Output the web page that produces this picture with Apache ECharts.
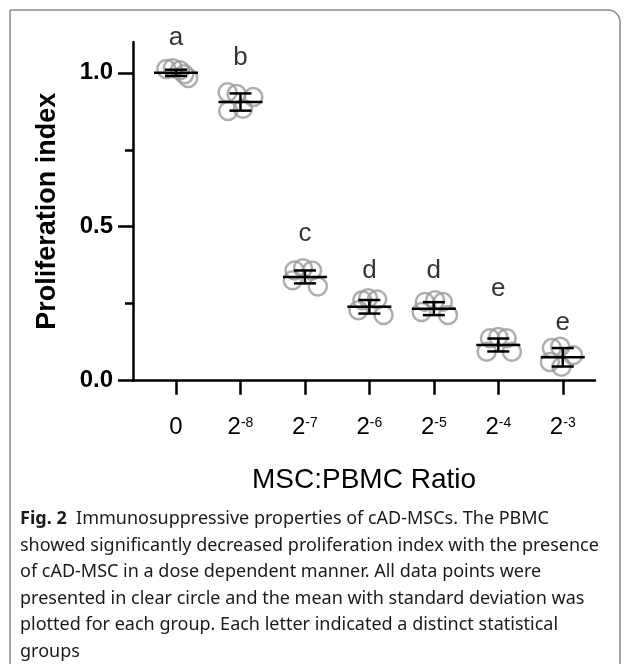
<!DOCTYPE html>
<html>
<head>
<meta charset="utf-8">
<script src="https://cdn.jsdelivr.net/npm/echarts@6/dist/echarts.min.js"></script>
<style>
html,body{margin:0;padding:0;background:#fff;}
#chart{width:630px;height:664px;}
</style>
</head>
<body>
<div id="chart"></div>
<script>
// ---- data ----
const categories = ['0', '2^-8', '2^-7', '2^-6', '2^-5', '2^-4', '2^-3'];
const tickBase = ['0', '2', '2', '2', '2', '2', '2'];
const tickSup = ['', '-8', '-7', '-6', '-5', '-4', '-3'];
// individual replicate values per group
const valuesG0 = [1.012, 1.015, 1.008, 0.995, 0.983];
const valuesG1 = [0.937, 0.931, 0.921, 0.876, 0.883];
const valuesG2 = [0.358, 0.365, 0.358, 0.326, 0.306];
const valuesG3 = [0.261, 0.268, 0.264, 0.229, 0.213];
const valuesG4 = [0.256, 0.261, 0.256, 0.223, 0.213];
const valuesG5 = [0.138, 0.142, 0.138, 0.094, 0.094];
const valuesG6 = [0.106, 0.110, 0.083, 0.061, 0.045];
// horizontal jitter of the replicates within a group (category units)
const jitterG0 = [-0.15, -0.05, 0.06, 0.13, 0.19];
const jitterG1 = [-0.20, -0.06, 0.20, -0.19, 0.04];
const jitterG2 = [-0.16, -0.03, 0.11, -0.19, 0.20];
const jitterG3 = [-0.11, -0.02, 0.12, -0.17, 0.22];
const jitterG4 = [-0.14, 0.02, 0.14, -0.19, 0.22];
const jitterG5 = [-0.13, 0.00, 0.13, -0.18, 0.21];
const jitterG6 = [-0.17, -0.04, 0.16, -0.20, -0.02];
const means = [1.000, 0.905, 0.337, 0.240, 0.234, 0.116, 0.076];
const sds = [0.010, 0.028, 0.021, 0.022, 0.021, 0.021, 0.030];
const letters = ['a', 'b', 'c', 'd', 'd', 'e', 'e'];
const letterY = [1.112, 1.050, 0.476, 0.356, 0.356, 0.298, 0.188];
const yTicks = [0, 0.5, 1.0];
const yMinorTicks = [0.25, 0.75];

const groupValues = [valuesG0, valuesG1, valuesG2, valuesG3, valuesG4, valuesG5, valuesG6];
const groupJitter = [jitterG0, jitterG1, jitterG2, jitterG3, jitterG4, jitterG5, jitterG6];

const pointData = [];
groupValues.forEach((vals, i) => {
  vals.forEach((v, k) => pointData.push([i + groupJitter[i][k], v]));
});
const barData = means.map((m, i) => [i, m, sds[i]]);
const letterData = letters.map((l, i) => [i, letterY[i], l]);
const catIdx = categories.map((c, i) => i);

const FONT = 'Liberation Sans, Arial, sans-serif';

const chart = echarts.init(document.getElementById('chart'), null, {renderer: 'canvas'});
chart.setOption({
  backgroundColor: '#fff',
  animation: false,
  grid: {left: 133, top: 42, right: 35, bottom: 283.3},
  xAxis: {
    type: 'value', min: -0.667, max: 6.5,
    splitLine: {show: false},
    axisLine: {show: true, onZero: false, lineStyle: {color: '#000', width: 2.5}},
    axisTick: {show: true, customValues: catIdx, length: 14, lineStyle: {color: '#000', width: 2.5}},
    axisLabel: {
      show: true, customValues: catIdx, margin: 35,
      formatter: function (v) {
        const i = Math.round(v);
        return tickSup[i] ? '{b|' + tickBase[i] + '}{s|' + tickSup[i] + '}' : '{b|' + tickBase[i] + '}';
      },
      rich: {
        b: {fontFamily: FONT, fontSize: 24, color: '#000', lineHeight: 24, verticalAlign: 'bottom'},
        s: {fontFamily: FONT, fontSize: 14, color: '#000', lineHeight: 14, verticalAlign: 'top'}
      }
    },
    name: 'MSC:PBMC Ratio', nameLocation: 'middle', nameGap: 86,
    nameTextStyle: {fontFamily: FONT, fontSize: 28, color: '#000'}
  },
  yAxis: [{
    type: 'value', min: 0, max: 1.1,
    splitLine: {show: false},
    axisLine: {show: true, onZero: false, lineStyle: {color: '#000', width: 2.5}},
    axisTick: {show: true, customValues: yTicks, length: 15, lineStyle: {color: '#000', width: 2.5}},
    axisLabel: {show: true, customValues: yTicks, margin: 20,
      formatter: v => v.toFixed(1),
      fontFamily: FONT, fontSize: 24, fontWeight: 'bold', color: '#000'},
    name: 'Proliferation index', nameLocation: 'middle', nameGap: 72,
    nameTextStyle: {fontFamily: FONT, fontSize: 27, fontWeight: 'bold', color: '#000'}
  }, {
    type: 'value', min: 0, max: 1.1, position: 'left',
    splitLine: {show: false},
    axisLine: {show: false, onZero: false},
    axisTick: {show: true, customValues: yMinorTicks, length: 8, lineStyle: {color: '#000', width: 2.5}},
    axisLabel: {show: false}
  }],
  series: [{
    type: 'scatter',
    data: pointData,
    symbol: 'circle', symbolSize: 18,
    itemStyle: {color: 'rgba(0,0,0,0)', borderColor: '#9a9a9a', borderWidth: 2.5},
    z: 2
  }, {
    type: 'custom',
    data: barData,
    z: 3,
    renderItem: function (params, api) {
      const x = api.value(0), m = api.value(1), s = api.value(2);
      const c = api.coord([x, m]);
      const hi = api.coord([x, m + s]);
      const lo = api.coord([x, m - s]);
      const st = {stroke: '#000', lineWidth: 2.5};
      return {type: 'group', children: [
        {type: 'line', shape: {x1: c[0] - 22, y1: c[1], x2: c[0] + 22, y2: c[1]}, style: st},
        {type: 'line', shape: {x1: c[0], y1: hi[1], x2: c[0], y2: lo[1]}, style: st},
        {type: 'line', shape: {x1: c[0] - 11, y1: hi[1], x2: c[0] + 11, y2: hi[1]}, style: st},
        {type: 'line', shape: {x1: c[0] - 11, y1: lo[1], x2: c[0] + 11, y2: lo[1]}, style: st}
      ]};
    }
  }, {
    type: 'scatter',
    data: letterData,
    symbolSize: 1,
    itemStyle: {color: 'rgba(0,0,0,0)'},
    clip: false,
    label: {show: true, position: 'inside', formatter: p => p.data[2],
      fontFamily: FONT, fontSize: 26, color: '#000'},
    z: 4
  }],
  graphic: [{
    type: 'rect', silent: true,
    shape: {x: 10, y: 10, width: 610, height: 720, r: [0, 12, 0, 0]},
    style: {fill: 'none', stroke: '#8a8a8a', lineWidth: 1.5}
  }, {
    type: 'text', left: 20, top: 506,
    style: {
      text: '{b|Fig. 2}  Immunosuppressive properties of cAD-MSCs. The PBMC\n' +
        'showed significantly decreased proliferation index with the presence\n' +
        'of cAD-MSC in a dose dependent manner. All data points were\n' +
        'presented in clear circle and the mean with standard deviation was\n' +
        'plotted for each group. Each letter indicated a distinct statistical\n' +
        'groups',
      fontFamily: 'Noto Sans, sans-serif', fontSize: 18, lineHeight: 26.5, fill: '#1a1a1a',
      rich: {b: {fontFamily: 'Noto Sans, sans-serif', fontSize: 18, fontWeight: 'bold', lineHeight: 26.5, fill: '#1a1a1a'}}
    }
  }]
});
</script>
</body>
</html>
